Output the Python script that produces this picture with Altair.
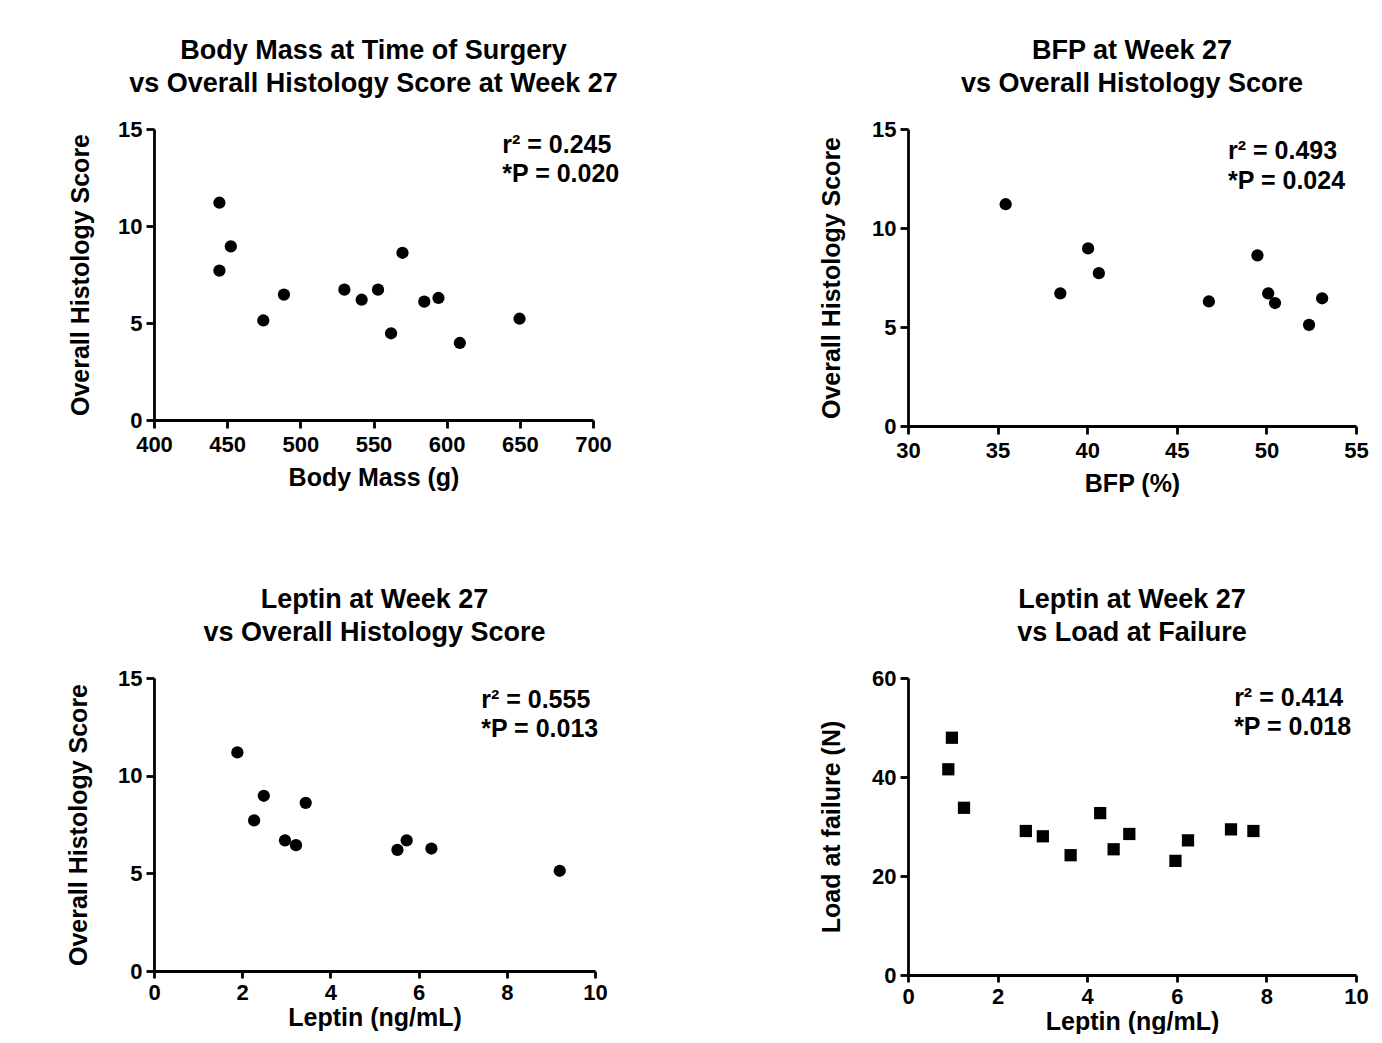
import altair as alt
import pandas as pd

FONT = "Liberation Sans"

# Panel 1: Body mass vs histology score
mass_g = [444.7, 444.7, 452.5, 474.7, 488.8, 530.1, 541.9, 553.1, 562.0, 569.8, 584.7, 594.4, 609.0, 649.8]
mass_score = [11.2, 7.7, 8.95, 5.13, 6.46, 6.72, 6.2, 6.72, 4.47, 8.62, 6.1, 6.29, 3.97, 5.22]

# Panel 2: BFP vs histology score
bfp_pct = [35.45, 38.5, 40.05, 40.65, 46.79, 49.5, 50.1, 50.48, 52.38, 53.11]
bfp_score = [11.2, 6.7, 8.97, 7.72, 6.29, 8.62, 6.7, 6.21, 5.11, 6.45]

# Panel 3: Leptin vs histology score
leptin_a = [1.89, 2.27, 2.49, 2.97, 3.22, 3.44, 5.52, 5.73, 6.29, 9.2]
leptin_score = [11.19, 7.71, 8.97, 6.69, 6.44, 8.61, 6.2, 6.69, 6.27, 5.13]

# Panel 4: Leptin vs load at failure
leptin_b = [0.9, 0.98, 1.25, 2.63, 3.01, 3.63, 4.29, 4.59, 4.94, 5.97, 6.25, 7.21, 7.71]
load_n = [41.56, 47.93, 33.78, 29.09, 28.02, 24.2, 32.71, 25.4, 28.49, 23.06, 27.2, 29.42, 29.09]

# Statistics annotations (text, anchored in data units)
stats_text = [["r² = 0.245", "*P = 0.020"], ["r² = 0.493", "*P = 0.024"],
              ["r² = 0.555", "*P = 0.013"], ["r² = 0.414", "*P = 0.018"]]
stats_x = [638.0, 47.86, 7.42, 7.28]
stats_y = [[14.2, 12.7], [13.9, 12.37], [13.87, 12.39], [55.96, 50.1]]

titles = [["Body Mass at Time of Surgery", "vs Overall Histology Score at Week 27"],
          ["BFP at Week 27", "vs Overall Histology Score"],
          ["Leptin at Week 27", "vs Overall Histology  Score"],
          ["Leptin at Week 27", "vs Load at Failure"]]


def panel(xs, ys, xtitle, ytitle, xdom, xticks, ydom, yticks, title, shape, size,
          w, h, sx, sy, stxt, ytitle_pad, xtitle_pad, xlabel_pad=6, xtick=8):
    df = pd.DataFrame({"x": xs, "y": ys})
    xenc = alt.X("x:Q", scale=alt.Scale(domain=xdom, nice=False, zero=False),
                 axis=alt.Axis(values=xticks, title=xtitle, titlePadding=xtitle_pad,
                               labelPadding=xlabel_pad, tickSize=xtick))
    yenc = alt.Y("y:Q", scale=alt.Scale(domain=ydom, nice=False, zero=False),
                 axis=alt.Axis(values=yticks, title=ytitle, titlePadding=ytitle_pad))
    pts = alt.Chart(df).mark_point(filled=True, shape=shape, size=size,
                                   color="black", opacity=1).encode(x=xenc, y=yenc)
    ann = pd.DataFrame({"x": [sx, sx], "y": sy, "t": stxt})
    txt = alt.Chart(ann).mark_text(align="left", baseline="middle", font=FONT,
                                   fontSize=25, fontWeight="bold", color="black").encode(
        x="x:Q", y="y:Q", text="t:N")
    return alt.layer(pts, txt).properties(
        width=w, height=h,
        title=alt.TitleParams(text=title, font=FONT, fontSize=27, fontWeight="bold",
                              color="black", lineHeight=33, anchor="middle",
                              frame="group", offset=20))


p1 = panel(mass_g, mass_score, "Body Mass (g)", "Overall Histology Score",
           [400, 700], [400, 450, 500, 550, 600, 650, 700], [0, 15], [0, 5, 10, 15],
           titles[0], "circle", 150, 439, 291, stats_x[0], stats_y[0], stats_text[0],
           ytitle_pad=24, xtitle_pad=10)
p2 = panel(bfp_pct, bfp_score, "BFP (%)", "Overall Histology Score",
           [30, 55], [30, 35, 40, 45, 50, 55], [0, 15], [0, 5, 10, 15],
           titles[1], "circle", 150, 448, 297, stats_x[1], stats_y[1], stats_text[1],
           ytitle_pad=27, xtitle_pad=10)
p3 = panel(leptin_a, leptin_score, "Leptin (ng/mL)", "Overall Histology Score",
           [0, 10], [0, 2, 4, 6, 8, 10], [0, 15], [0, 5, 10, 15],
           titles[2], "circle", 150, 441, 293, stats_x[2], stats_y[2], stats_text[2],
           ytitle_pad=26, xtitle_pad=2, xlabel_pad=4, xtick=7)
p4 = panel(leptin_b, load_n, "Leptin (ng/mL)", "Load at failure (N)",
           [0, 10], [0, 2, 4, 6, 8, 10], [0, 60], [0, 20, 40, 60],
           titles[3], "square", 150, 448, 297, stats_x[3], stats_y[3], stats_text[3],
           ytitle_pad=27, xtitle_pad=2, xlabel_pad=4, xtick=7)

row1 = alt.hconcat(p1, p2, spacing=315, bounds="flush")
row2 = alt.hconcat(p3, p4, spacing=313, bounds="flush")

chart = alt.vconcat(row1, row2, spacing=90).properties(
    padding={"left": 58, "top": 29, "right": 0, "bottom": 0},
    background="white",
).configure_view(stroke=None).configure_axis(
    grid=False,
    domainColor="black", domainWidth=2.8,
    tickColor="black", tickWidth=2.8, tickSize=8,
    labelFont=FONT, labelFontSize=22, labelFontWeight="bold", labelColor="black",
    labelPadding=4, labelFlush=False,
    titleFont=FONT, titleFontSize=25, titleFontWeight="bold", titleColor="black",
)

chart.save("out.html", embed_options={"renderer": "svg", "actions": False})
